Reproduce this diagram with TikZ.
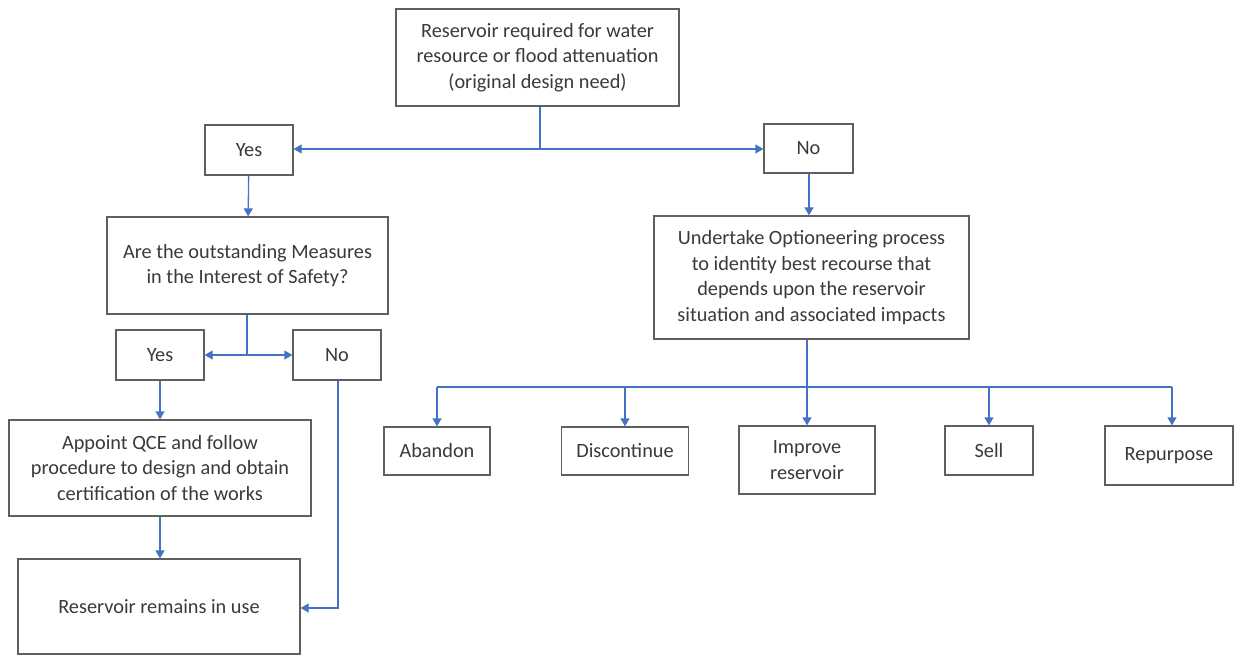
\documentclass[tikz,border=0pt]{standalone}
\usepackage{fontspec}
\setmainfont{Carlito}
\usetikzlibrary{arrows.meta}
\definecolor{boxline}{HTML}{5F5F5F}
\definecolor{txt}{HTML}{3A3A3A}
\definecolor{conn}{HTML}{4472C4}
\begin{document}
\begin{tikzpicture}[x=1pt,y=-1pt,
  box/.style={draw=boxline,line width=1.3pt,text=txt,align=center,inner sep=0pt,
    font=\fontsize{20.3}{25.5}\selectfont},
  conn/.style={draw=conn,line width=1.3pt},
  arr/.style={conn,-{Triangle[length=8pt,width=9pt]}}]
\useasboundingbox (0,0) rectangle (1234,655);
\fill[white] (0,0) rectangle (1234,655);
\node[box,minimum width=283pt,minimum height=97pt] (top) at (537.5,57.5) {Reservoir required for water\\resource or flood attenuation\\(original design need)};
\node[box,minimum width=88pt,minimum height=50pt] (yes1) at (249,150) {Yes};
\node[box,minimum width=89pt,minimum height=49pt] (no1) at (808.5,148.5) {No};
\node[box,minimum width=281pt,minimum height=97pt] (q) at (247.5,265.5) {Are the outstanding Measures\\in the Interest of Safety?};
\node[box,minimum width=88pt,minimum height=50pt] (yes2) at (160,355) {Yes};
\node[box,minimum width=88pt,minimum height=50pt] (no2) at (337,355) {No};
\node[box,minimum width=302pt,minimum height=96pt] (appoint) at (160,468) {Appoint QCE and follow\\procedure to design and obtain\\certification of the works};
\node[box,minimum width=282pt,minimum height=95pt] (remain) at (159,606.5) {Reservoir remains in use};
\node[box,minimum width=315pt,minimum height=123pt] (under) at (811.5,277.5) {Undertake Optioneering process\\to identity best recourse that\\depends upon the reservoir\\situation and associated impacts};
\node[box,minimum width=106pt,minimum height=48pt] (aband) at (437,451) {Abandon};
\node[box,minimum width=127pt,minimum height=48pt] (disc) at (625,451) {Discontinue};
\node[box,minimum width=136pt,minimum height=68pt] (impr) at (807,460) {Improve\\reservoir};
\node[box,minimum width=88pt,minimum height=49pt] (sell) at (989,450.5) {Sell};
\node[box,minimum width=128pt,minimum height=59pt] (repur) at (1169,455.5) {Repurpose};
% top split
\coordinate (j1) at (540,149);
\draw[conn] (top.south -| j1) -- (j1);
\draw[arr] (j1) -- (yes1.east |- j1);
\draw[arr] (j1) -- (no1.west |- j1);
\draw[arr] (yes1) -- (q);
\draw[arr] (no1.south -| 809,0) -- (under.north -| 809,0);
% safety split
\coordinate (j2) at (247,355);
\draw[conn] (q.south -| j2) -- (j2);
\draw[arr] (j2) -- (yes2.east);
\draw[arr] (j2) -- (no2.west);
\draw[arr] (yes2) -- (appoint);
\draw[arr] (appoint) -- (remain.north -| appoint);
\coordinate (j3) at (338,608);
\draw[arr] (no2.south -| j3) -- (j3) -- (remain.east |- j3);
% options split
\coordinate (j4) at (807,387);
\draw[conn] (under.south -| j4) -- (j4);
\draw[conn] (aband.north |- j4) -- (1172,387);
\draw[arr] (aband.north |- j4) -- (aband.north);
\draw[arr] (disc.north |- j4) -- (disc.north);
\draw[arr] (j4) -- (impr.north);
\draw[arr] (sell.north |- j4) -- (sell.north);
\draw[arr] (1172,387) -- (repur.north -| 1172,0);
\end{tikzpicture}
\end{document}
